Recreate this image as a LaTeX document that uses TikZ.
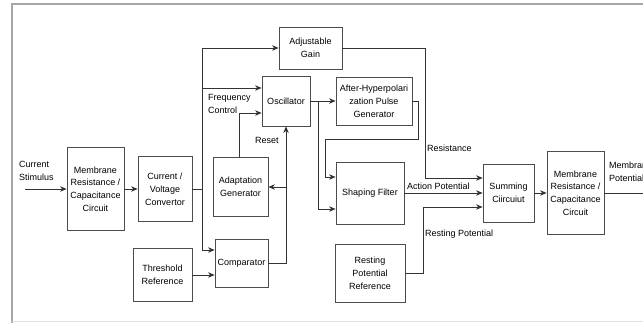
\documentclass[tikz,border=0pt]{standalone}
\usepackage{fontspec}
\setmainfont{Liberation Sans}
\usetikzlibrary{arrows.meta}

\tikzset{
  block/.style = {draw=black!70, line width=0.8pt, rectangle, align=center,
                  inner sep=1pt, font=\fontsize{9}{12.8}\selectfont},
  conn/.style  = {draw=black!80, line width=0.8pt},
  tip/.style   = {conn, -{Stealth[length=6.5pt,width=5.5pt,inset=2pt]}},
  lbl/.style   = {inner sep=0pt, align=left, font=\fontsize{9}{12.8}\selectfont}
}

\begin{document}
\begin{tikzpicture}[x=1pt, y=-1pt]
        %% frame
        \useasboundingbox (0,0) rectangle (643,323);
        \draw[black!35, line width=1.3pt] (643,4) -- (12,4) -- (12,323);
        \draw[black!12, line width=0.8pt] (12,321) -- (643,321);

        %% blocks
        \node[block, minimum width=57pt, minimum height=83pt] (mrc1)  at (95.5,189)  {Membrane\\Resistance /\\Capacitance\\Circuit};
        \node[block, minimum width=54pt, minimum height=65pt] (cvc)   at (165,189)   {Current /\\Voltage\\Convertor};
        \node[block, minimum width=59pt, minimum height=53pt] (thr)   at (162.5,275) {Threshold\\Reference};
        \node[block, minimum width=63pt, minimum height=42pt] (gain)  at (310.5,48)  {Adjustable\\Gain};
        \node[block, minimum width=48pt, minimum height=50pt] (osc)   at (286,101)   {Oscillator};
        \node[block, minimum width=55pt, minimum height=59pt] (adapt) at (240.5,187) {Adaptation\\Generator};
        \node[block, minimum width=53pt, minimum height=48pt] (comp)  at (241.5,263) {Comparator};
        \node[block, minimum width=76pt, minimum height=48pt] (ahp)   at (374,101)   {After-Hyperpolari\\zation Pulse\\Generator};
        \node[block, minimum width=68pt, minimum height=62pt] (shape) at (370,193)   {Shaping Filter};
        \node[block, minimum width=70pt, minimum height=58pt] (rest)  at (370,273)   {Resting\\Potential\\Reference};
        \node[block, minimum width=51pt, minimum height=58pt] (sum)   at (508.5,193) {Summing\\Ciircuiut};
        \node[block, minimum width=57pt, minimum height=83pt] (mrc2)  at (575.5,193) {Membrane\\Resistance /\\Capacitance\\Circuit};

        %% helper points
        \coordinate (stim)  at (25,189);
        \coordinate (bus)   at (202,189);
        \coordinate (bustop) at (202,48);
        \coordinate (busbot) at (202,250);
        \coordinate (busosc) at (202,88);
        \coordinate (fc)    at (239,113);
        \coordinate (split) at (318,101);
        \coordinate (ahpr)  at (418,101);
        \coordinate (ahpl)  at (325,139);
        \coordinate (gainr) at (425,48);
        \coordinate (restr) at (423,273);
        \coordinate (out)   at (652,193);

        %% input path
        \draw[tip] (stim) -- (mrc1);
        \draw[tip] (mrc1) -- (cvc);
        \draw[conn] (cvc.east) -- (bus);
        \draw[conn] (bustop) -- (busbot);
        \draw[tip] (bustop) -- (gain.west);
        \draw[tip] (busosc) -- (busosc -| osc.west);
        \draw[tip] (busbot) -- (busbot -| comp.west);
        \draw[tip] (thr.east) -- (thr.east -| comp.west);

        %% frequency control and reset
        \draw[tip] (adapt.north -| fc) -- (fc) -- (fc -| osc.west);
        \draw[tip] (comp.east) -- (comp.east -| osc.south) -- (osc.south);
        \draw[tip] (osc.south |- adapt.east) -- (adapt.east);

        %% pulse generation
        \draw[tip] (osc) -- (ahp);
        \draw[tip] (split) -- (split |- 0,209) -- (shape.west |- 0,209);
        \draw[tip] (ahp.east) -- (ahpr) -- (ahpr |- ahpl) -- (ahpl) -- (ahpl |- 0,177) -- (shape.west |- 0,177);

        %% summing inputs
        \draw[tip] (gain.east) -- (gainr) -- (gainr |- 0,178) -- (sum.west |- 0,178);
        \draw[tip] (shape) -- (sum);
        \draw[tip] (rest.east) -- (restr) -- (restr |- 0,207) -- (sum.west |- 0,207);
        \draw[tip] (sum) -- (mrc2);
        \draw[tip] (mrc2.east) -- (out);

        %% labels
        \node[lbl, anchor=west] (lstim) at (19,171)   {Current\\Stimulus};
        \node[lbl, anchor=west] (lfreq) at (208,104)  {Frequency\\Control};
        \node[lbl, anchor=west] (lres)  at (255,140)  {Reset};
        \node[lbl, anchor=west] (lrst)  at (427,148)  {Resistance};
        \node[lbl, anchor=west] (lact)  at (407,186)  {Action Potential};
        \node[lbl, anchor=west] (lrpt)  at (425,234)  {Resting Potential};
        \node[lbl, anchor=west] (lmem)  at (609,172)  {Membrane\\Potential};
\end{tikzpicture}
\end{document}
